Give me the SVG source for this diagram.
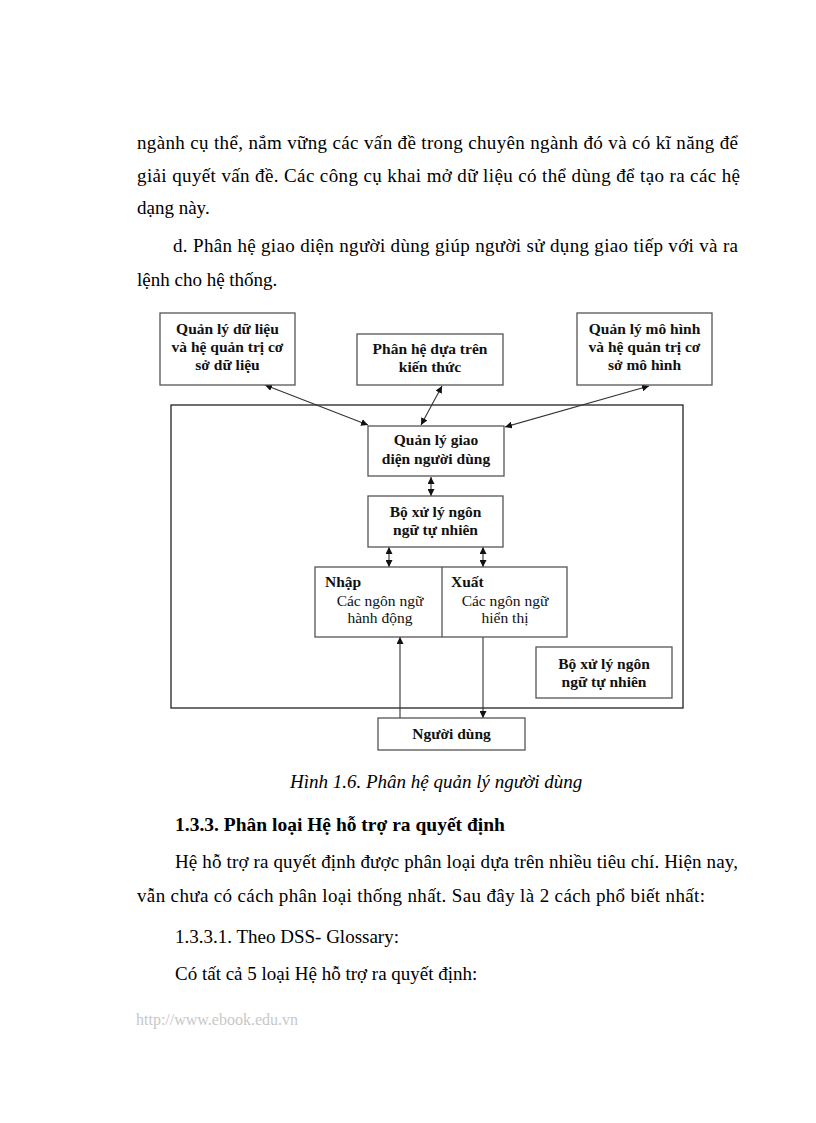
<svg xmlns="http://www.w3.org/2000/svg" width="816" height="1123" viewBox="0 0 816 1123">
<style>
.body{font-family:"Liberation Serif","Times New Roman",serif;font-size:19px;fill:#000}
.cap{font-family:"Liberation Serif","Times New Roman",serif;font-size:19px;font-style:italic;fill:#000}
.hd{font-family:"Liberation Serif","Times New Roman",serif;font-size:19.5px;font-weight:bold;fill:#000}
.url{font-family:"Liberation Serif","Times New Roman",serif;font-size:16px;fill:#c8c8c8}
.nb{font-family:"Liberation Serif","Times New Roman",serif;font-size:15.5px;font-weight:bold;fill:#111;text-anchor:middle}
.nbl{font-family:"Liberation Serif","Times New Roman",serif;font-size:15.5px;font-weight:bold;fill:#111}
.nr{font-family:"Liberation Serif","Times New Roman",serif;font-size:15.5px;fill:#111;text-anchor:middle}
.box{fill:#fff;stroke:#555;stroke-width:1.3}
.outer{fill:none;stroke:#222;stroke-width:1.3}
.con{stroke:#333;stroke-width:1.1;fill:none}
</style>
<defs>
<marker id="ah" viewBox="0 0 10 10" refX="10" refY="5" markerWidth="7" markerHeight="7" markerUnits="userSpaceOnUse" orient="auto-start-reverse">
<path d="M0,0 L10,5 L0,10 z" fill="#111"/>
</marker>
</defs>
<rect width="816" height="1123" fill="#fff"/>

<g id="text-top">
<text class="body" x="137" y="149" textLength="601" lengthAdjust="spacing">ngành cụ thể, nắm vững các vấn đề trong chuyên ngành đó và có kĩ năng để</text>
<text class="body" x="137" y="182" textLength="603" lengthAdjust="spacing">giải quyết vấn đề. Các công cụ khai mở dữ liệu có thể dùng để tạo ra các hệ</text>
<text class="body" x="137" y="214">dạng này.</text>
<text class="body" x="173" y="252" textLength="565" lengthAdjust="spacing">d. Phân hệ giao diện người dùng giúp người sử dụng giao tiếp với và ra</text>
<text class="body" x="137" y="286">lệnh cho hệ thống.</text>
</g>

<g id="outer-frame"><rect class="outer" x="171" y="405" width="512" height="303"/></g>

<g id="connectors">
<line class="con" x1="265" y1="385" x2="368" y2="425" marker-start="url(#ah)" marker-end="url(#ah)"/>
<line class="con" x1="442" y1="386" x2="421" y2="425" marker-start="url(#ah)" marker-end="url(#ah)"/>
<line class="con" x1="649" y1="386" x2="505" y2="427" marker-start="url(#ah)" marker-end="url(#ah)"/>
<line class="con" x1="431" y1="477" x2="431" y2="496" marker-start="url(#ah)" marker-end="url(#ah)"/>
<line class="con" x1="389" y1="547" x2="389" y2="567" marker-start="url(#ah)" marker-end="url(#ah)"/>
<line class="con" x1="483" y1="547" x2="483" y2="567" marker-start="url(#ah)" marker-end="url(#ah)"/>
<line class="con" x1="400" y1="718" x2="400" y2="637" marker-end="url(#ah)"/>
<line class="con" x1="483" y1="637" x2="483" y2="718" marker-end="url(#ah)"/>
</g>

<g id="n-qldl">
<rect class="box" x="160" y="313" width="135" height="72"/>
<text class="nb" x="227.5" y="334">Quản lý dữ liệu</text>
<text class="nb" x="227.5" y="352">và hệ quản trị cơ</text>
<text class="nb" x="227.5" y="370">sở dữ liệu</text>
</g>
<g id="n-phdt">
<rect class="box" x="357" y="334" width="146" height="51"/>
<text class="nb" x="430" y="354">Phân hệ dựa trên</text>
<text class="nb" x="430" y="372">kiến thức</text>
</g>
<g id="n-qlmh">
<rect class="box" x="577" y="313" width="135" height="72"/>
<text class="nb" x="644.5" y="334">Quản lý mô hình</text>
<text class="nb" x="644.5" y="352">và hệ quản trị cơ</text>
<text class="nb" x="644.5" y="370">sở mô hình</text>
</g>
<g id="n-qlgd">
<rect class="box" x="368" y="426" width="136" height="50"/>
<text class="nb" x="436" y="445">Quản lý giao</text>
<text class="nb" x="436" y="464">diện người dùng</text>
</g>
<g id="n-bxl">
<rect class="box" x="368" y="496" width="135" height="51"/>
<text class="nb" x="435.5" y="517">Bộ xử lý ngôn</text>
<text class="nb" x="435.5" y="535">ngữ tự nhiên</text>
</g>
<g id="n-nhapxuat">
<rect class="box" x="315" y="567" width="252" height="70"/>
<line class="box" x1="442" y1="567" x2="442" y2="637"/>
<text class="nbl" x="325" y="587">Nhập</text>
<text class="nr" x="380" y="606">Các ngôn ngữ</text>
<text class="nr" x="380" y="623">hành động</text>
<text class="nbl" x="451" y="587">Xuất</text>
<text class="nr" x="505" y="606">Các ngôn ngữ</text>
<text class="nr" x="505" y="623">hiển thị</text>
</g>
<g id="n-bxl2">
<rect class="box" x="536" y="647" width="136" height="51"/>
<text class="nb" x="604" y="669">Bộ xử lý ngôn</text>
<text class="nb" x="604" y="687">ngữ tự nhiên</text>
</g>
<g id="n-nguoidung">
<rect class="box" x="378" y="718" width="147" height="32"/>
<text class="nb" x="451.5" y="739">Người dùng</text>
</g>

<g id="text-bottom">
<text class="cap" x="290" y="788">Hình 1.6. Phân hệ quản lý người dùng</text>
<text class="hd" x="175" y="831">1.3.3. Phân loại Hệ hỗ trợ ra quyết định</text>
<text class="body" x="175" y="868" textLength="563" lengthAdjust="spacing">Hệ hỗ trợ ra quyết định được phân loại dựa trên nhiều tiêu chí. Hiện nay,</text>
<text class="body" x="137" y="902" textLength="568" lengthAdjust="spacing">vẫn chưa có cách phân loại thống nhất. Sau đây là 2 cách phổ biết nhất:</text>
<text class="body" x="175" y="943">1.3.3.1. Theo DSS- Glossary:</text>
<text class="body" x="175" y="980">Có tất cả 5 loại Hệ hỗ trợ ra quyết định:</text>
<text class="url" x="136" y="1025">http://www.ebook.edu.vn</text>
</g>
</svg>
